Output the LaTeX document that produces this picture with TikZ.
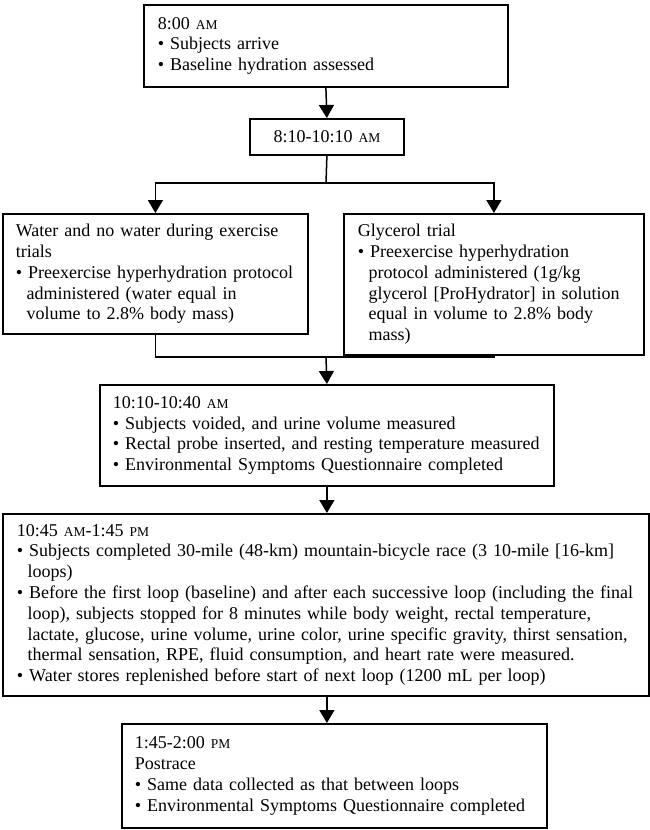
\documentclass[tikz,border=0pt]{standalone}
\usepackage{fontspec}
\setmainfont{Liberation Serif}
\usetikzlibrary{arrows.meta}
\newcommand{\tm}[1]{{\fontsize{13.5pt}{13.5pt}\selectfont #1}}
\newcommand{\bul}{\textbullet\ }
\newcommand{\cont}{\hspace*{10.8pt}}

\begin{document}
\begin{tikzpicture}[x=1pt,y=-1pt,
  box/.style={draw, line width=1.8pt, anchor=north west, align=left,
    inner xsep=14pt, inner ysep=0pt, font=\fontsize{18pt}{20.8pt}\selectfont},
  link/.style={line width=1.5pt},
  arr/.style={link, -{Triangle[length=13pt,width=15pt]}}]
\useasboundingbox (0,0) rectangle (650,830);

\node (start) [box, text width=336pt, minimum width=364pt, minimum height=82pt] at (143,4) {
8:00 \tm{AM}\\
\bul Subjects arrive\\
\bul Baseline hydration assessed
};
\node (load) [box, align=center, text width=126pt, minimum width=154pt, minimum height=36pt] at (249,118) {
8:10-10:10 \tm{AM}
};
\node (water) [box, inner xsep=13pt, text width=279pt, minimum width=305pt, minimum height=120pt] at (2,213) {
Water and no water during exercise\\
trials\\
\bul Preexercise hyperhydration protocol\\
\cont administered (water equal in\\
\cont volume to 2.8\% body mass)
};
\node (glyc) [box, text width=272pt, minimum width=300pt, minimum height=141pt] at (343,213) {
Glycerol trial\\
\bul Preexercise hyperhydration\\
\cont protocol administered (1g/kg\\
\cont glycerol [ProHydrator] in solution\\
\cont equal in volume to 2.8\% body\\
\cont mass)
};
\node (prerace) [box, inner xsep=13pt, text width=428pt, minimum width=454pt, minimum height=101pt] at (99,384) {
10:10-10:40 \tm{AM}\\
\bul Subjects voided, and urine volume measured\\
\bul Rectal probe inserted, and resting temperature measured\\
\bul Environmental Symptoms Questionnaire completed
};
\node (race) [box, inner xsep=14pt, text width=618pt, minimum width=646pt, minimum height=182pt] at (2,513) {
10:45 \tm{AM}-1:45 \tm{PM}\\
\mbox{\bul Subjects completed 30-mile (48-km) mountain-bicycle race (3 10-mile [16-km]}\\
\cont loops)\\
\mbox{\bul Before the first loop (baseline) and after each successive loop (including the final}\\
\cont\mbox{loop), subjects stopped for 8 minutes while body weight, rectal temperature,}\\
\cont\mbox{lactate, glucose, urine volume, urine color, urine specific gravity, thirst sensation,}\\
\cont\mbox{thermal sensation, RPE, fluid consumption, and heart rate were measured.}\\
\bul Water stores replenished before start of next loop (1200 mL per loop)
};
\node (postrace) [box, inner xsep=13pt, text width=399pt, minimum width=425pt, minimum height=104pt] at (121,723) {
1:45-2:00 \tm{PM}\\
Postrace\\
\bul Same data collected as that between loops\\
\bul Environmental Symptoms Questionnaire completed
};

\coordinate (fork) at (326,183);
\coordinate (join) at (326,357);

\draw [arr] (start.south) -- (load.north);
\draw [link] (load.south) -- (fork);
\draw [arr] (fork) -| (water.north);
\draw [arr] (fork) -| (glyc.north);
\draw [link] (water.south) |- (join) -| (glyc.south);
\draw [arr] (join) -- (prerace.north);
\draw [arr] (prerace.south) -- (race.north -| prerace.south);
\draw [arr] (race.south -| prerace.south) -- (postrace.north -| prerace.south);
\end{tikzpicture}
\end{document}
